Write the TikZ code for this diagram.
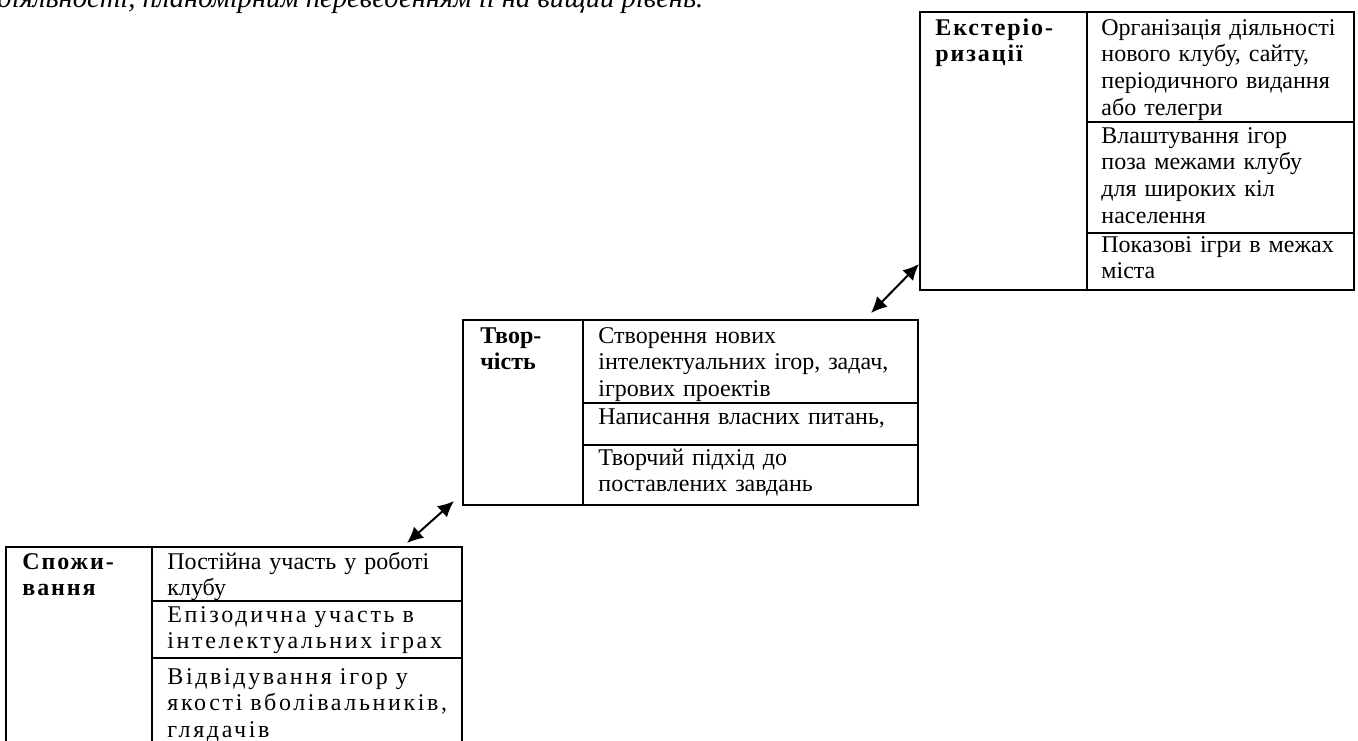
\documentclass[tikz,border=0pt]{standalone}
\usepackage{fontspec}
\setmainfont{Liberation Serif}
\newfontfamily\spaced[LetterSpace=11,WordSpace=1.6]{Liberation Serif}
\newfontfamily\hspaced[LetterSpace=8]{Liberation Serif}
\usetikzlibrary{arrows.meta}
\tikzset{
  rule/.style={line width=1.2pt},
  cell/.style={anchor=base west, inner sep=0pt, align=left, text width=#1,
    font=\fontsize{12}{13.35}\selectfont},
  cell/.default=150pt,
  head/.style={cell=70pt, font=\fontsize{12}{13.35}\selectfont\bfseries},
  link/.style={{Latex[length=8pt,width=7.5pt]}-{Latex[length=8pt,width=7.5pt]}, line width=1pt}
}

\begin{document}
\begin{tikzpicture}[x=0.5pt, y=-0.5pt]
\path[use as bounding box, clip] (0,0) rectangle (1358,740);

% text above
\node[anchor=base west, inner sep=0pt, font=\fontsize{14.3}{16}\selectfont\itshape] (intro) at (-3,7)
  {діяльності, планомірним переведенням її на вищий рівень.};

% Екстеріоризація
\draw[rule] (920,12) rectangle (1354,290);
\draw[rule] (1087,12) -- (1087,290);
\draw[rule] (1087,122) -- (1354,122);
\draw[rule] (1087,233) -- (1354,233);
\node[head] (ekst) at (935,35) {\hspaced\bfseries Екстеріо-\\ ризації};
\node[cell=128pt] (ekst1) at (1101,35) {Організація діяльності\\ нового клубу, сайту,\\ періодичного видання\\ або телегри};
\node[cell=128pt] (ekst2) at (1101,143) {Влаштування ігор\\ поза межами клубу\\ для широких кіл\\ населення};
\node[cell=128pt] (ekst3) at (1101,252) {Показові ігри в межах\\ міста};

% Творчість
\draw[rule] (463,320) rectangle (918,505);
\draw[rule] (583,320) -- (583,505);
\draw[rule] (583,403) -- (918,403);
\draw[rule] (583,445) -- (918,445);
\node[head] (tvor) at (480,343) {Твор-\\ чість};
\node[cell=160pt] (tvor1) at (598,343) {Створення нових\\ інтелектуальних ігор, задач,\\ ігрових проектів};
\node[cell=160pt] (tvor2) at (598,424) {Написання власних питань,};
\node[cell=160pt] (tvor3) at (598,465) {Творчий підхід до\\ поставлених завдань};

% Споживання
\draw[rule] (6,547) rectangle (462,752);
\draw[rule] (152,547) -- (152,752);
\draw[rule] (152,601) -- (462,601);
\draw[rule] (152,658) -- (462,658);
\node[head] (spoz) at (22,569) {\hspaced\bfseries Спожи-\\ вання};
\node[cell=150pt] (spoz1) at (167,569) {Постійна участь у роботі\\ клубу};
\node[cell=152pt] (spoz2) at (167,622) {\spaced Епізодична участь в\\ інтелектуальних іграх};
\node[cell=152pt] (spoz3) at (167,684) {\spaced Відвідування ігор у\\ якості вболівальників,\\ глядачів};

% arrows
\coordinate (s1) at (407,543);
\coordinate (t1) at (454,501);
\coordinate (t2) at (871,313);
\coordinate (e1) at (919,264);
\draw[link] (s1) -- (t1);
\draw[link] (t2) -- (e1);
\end{tikzpicture}
\end{document}
